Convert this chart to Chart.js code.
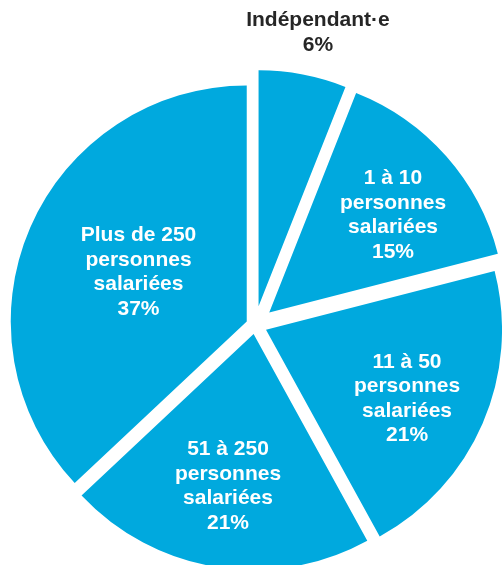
<!DOCTYPE html>
<html lang="fr">
<head>
    <meta charset="UTF-8">
    <title>Taille des entreprises</title>
    <script src="https://cdn.jsdelivr.net/npm/chart.js"></script>
    <style>
        body {
            margin: 0;
            background: #fff;
            overflow: hidden;
        }

        .chart-box {
            position: relative;
            width: 502px;
            height: 565px;
        }
    </style>
</head>
<body>
    <div class="chart-box">
        <canvas id="pieChart"></canvas>
    </div>

    <script>
        // donnees
        const categories = [
            ['Indépendant·e'],
            ['1 à 10', 'personnes', 'salariées'],
            ['11 à 50', 'personnes', 'salariées'],
            ['51 à 250', 'personnes', 'salariées'],
            ['Plus de 250', 'personnes', 'salariées']
        ];
        const shares = [6, 15, 21, 21, 37];

        // style : eclatement des parts (px), position des etiquettes
        // (fraction du rayon, fraction de l'angle de la part)
        const explode = [19, 19, 12, 9, 9];
        const labelRadius = [1.19, 0.67, 0.663, 0.65, 0.506];
        const labelAngle = [0.565, 0.554, 0.53, 0.508, 0.512];
        const sliceColor = '#00A9DE';

        const explodePlugin = {
            id: 'explode',
            afterDatasetUpdate(chart, args) {
                args.meta.data.forEach((arc, i) => {
                    const mid = (arc.startAngle + arc.endAngle) / 2;
                    arc.x += Math.cos(mid) * explode[i];
                    arc.y += Math.sin(mid) * explode[i];
                });
            }
        };

        const labelPlugin = {
            id: 'sliceLabels',
            afterDatasetsDraw(chart) {
                const ctx = chart.ctx;
                const meta = chart.getDatasetMeta(0);
                ctx.save();
                ctx.font = 'bold 21px "Liberation Sans", Arial, sans-serif';
                ctx.textAlign = 'center';
                ctx.textBaseline = 'middle';
                meta.data.forEach((arc, i) => {
                    const a = arc.startAngle + (arc.endAngle - arc.startAngle) * labelAngle[i];
                    const r = arc.outerRadius * labelRadius[i];
                    const x = arc.x + Math.cos(a) * r;
                    const y = arc.y + Math.sin(a) * r + 1;
                    const lines = categories[i].concat([shares[i] + '%']);
                    const lh = 24.5;
                    ctx.fillStyle = labelRadius[i] > 1 ? '#262626' : '#ffffff';
                    lines.forEach((txt, k) => {
                        ctx.fillText(txt, x, y + (k - (lines.length - 1) / 2) * lh);
                    });
                });
                ctx.restore();
            }
        };

        new Chart(document.getElementById('pieChart'), {
            type: 'pie',
            data: {
                labels: categories,
                datasets: [{
                    data: shares,
                    backgroundColor: sliceColor,
                    borderWidth: 0
                }]
            },
            options: {
                responsive: true,
                maintainAspectRatio: false,
                animation: false,
                layout: {
                    padding: { left: 19, right: 11, top: 89, bottom: 4 }
                },
                plugins: {
                    legend: { display: false },
                    tooltip: { enabled: false }
                }
            },
            plugins: [explodePlugin, labelPlugin]
        });
    </script>
</body>
</html>
